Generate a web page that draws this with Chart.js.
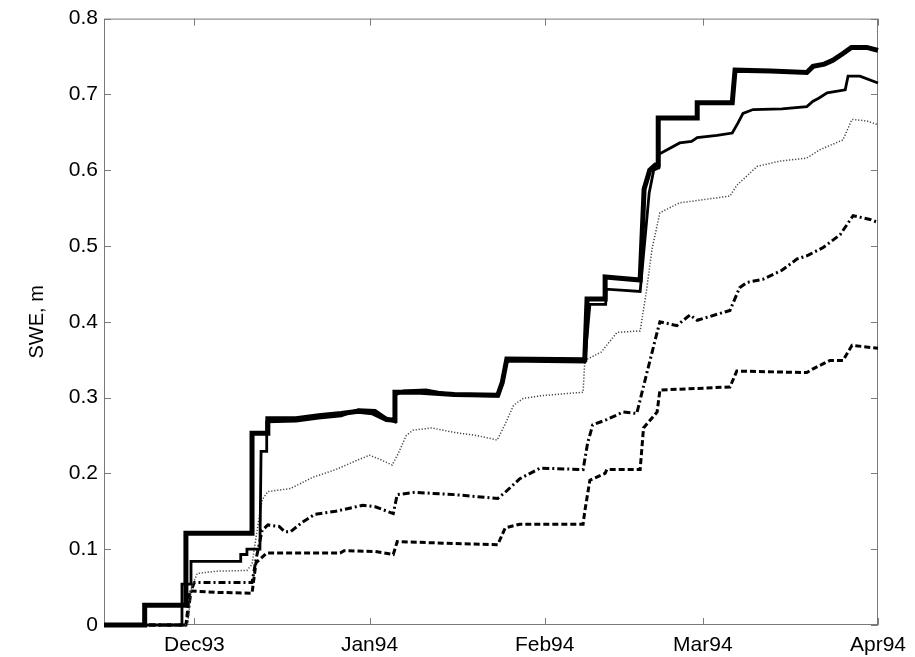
<!DOCTYPE html>
<html>
<head>
<meta charset="utf-8">
<title>SWE</title>
<script src="https://cdn.jsdelivr.net/npm/chart.js@4/dist/chart.umd.min.js"></script>
<style>
  html, body { margin: 0; padding: 0; background: #fff; }
  canvas { display: block; }
</style>
</head>
<body>
<canvas id="grafico" width="915" height="657"></canvas>
<script>
// ---- dados: dias desde 15/nov/1993, SWE em m ----
const monthTicks  = [16, 47, 78, 106, 137];
const monthLabels = ['Dec93', 'Jan94', 'Feb94', 'Mar94', 'Apr94'];
const yTicks      = [0, 0.1, 0.2, 0.3, 0.4, 0.5, 0.6, 0.7, 0.8];

// linha grossa
const sweGrossa = [
  [0,0],[7.2,0],[7.2,0.026],[14.5,0.026],[14.5,0.121],[26.2,0.121],[26.2,0.253],[29.0,0.253],
  [29.0,0.272],[34,0.272],[38,0.276],[42,0.279],[45,0.282],[47.5,0.280],[50,0.271],[51.5,0.270],
  [51.5,0.307],[56,0.307],[62,0.304],[69.7,0.303],[70.5,0.32],[71.3,0.351],[85.1,0.350],[85.5,0.430],
  [88.7,0.430],[88.7,0.459],[94.9,0.455],[95.6,0.575],[96.6,0.600],[97.6,0.607],[98.1,0.607],[98.1,0.669],
  [105,0.669],[105,0.689],[111.2,0.689],[111.7,0.732],[118,0.731],[124.4,0.729],[125.5,0.737],[127.5,0.740],
  [129,0.745],[130.8,0.754],[132.3,0.762],[135,0.762],[137,0.758]
];

// linha fina
const sweFina = [
  [0,0],[13.8,0],[13.8,0.054],[15.4,0.054],[15.4,0.084],[24.2,0.084],[24.2,0.093],[25.3,0.093],
  [25.3,0.100],[27.6,0.100],[27.8,0.229],[28.8,0.229],[28.8,0.268],[34,0.269],[38,0.273],[42,0.276],
  [45,0.284],[48,0.283],[50,0.273],[51.5,0.268],[51.5,0.303],[53,0.309],[57,0.310],[60,0.306],
  [64,0.303],[69.7,0.302],[70.5,0.32],[71.3,0.348],[85.1,0.347],[86.0,0.423],[88.8,0.423],[88.9,0.443],
  [94.9,0.440],[96.5,0.570],[97.3,0.600],[98.1,0.603],[98.2,0.621],[101.9,0.636],[104,0.638],[105,0.643],
  [108.5,0.646],[111.2,0.649],[112.2,0.662],[113.1,0.675],[114.9,0.680],[120,0.681],[124.4,0.684],
  [125.5,0.691],[126.5,0.695],[128,0.702],[131.2,0.706],[131.7,0.724],[133.8,0.724],[137,0.715]
];

// pontilhada
const swePontos = [
  [0,0],[14.8,0],[15.5,0.05],[16.5,0.068],[20,0.071],[25.3,0.072],[26.2,0.080],[27,0.12],[28,0.165],
  [29,0.176],[33,0.180],[37,0.195],[41,0.205],[45,0.218],[47,0.224],[49,0.218],[51,0.211],[52,0.225],
  [53.5,0.250],[54.7,0.257],[58,0.260],[62,0.254],[66,0.250],[69.6,0.244],[71,0.265],[72.5,0.290],
  [74.2,0.299],[78,0.303],[84.8,0.307],[85.1,0.349],[88,0.360],[90.8,0.386],[94.9,0.388],[96,0.44],
  [97,0.496],[98.4,0.544],[101.9,0.557],[105,0.560],[110.8,0.566],[112,0.58],[115.6,0.605],[119.6,0.612],
  [124.4,0.616],[126.7,0.627],[130.8,0.640],[132.4,0.667],[135,0.665],[137,0.660]
];

// traço-ponto
const sweTracoPonto = [
  [0,0],[14.6,0],[15.4,0.045],[16,0.056],[26.2,0.056],[27,0.09],[28,0.125],[29,0.132],[31,0.130],
  [32,0.123],[33,0.123],[35,0.135],[37.3,0.146],[41,0.150],[45.8,0.158],[48,0.156],[51.2,0.147],
  [51.9,0.172],[55,0.175],[62,0.172],[69.7,0.167],[71,0.175],[73.6,0.193],[77.2,0.207],[84.8,0.205],
  [85.6,0.24],[86.5,0.264],[89,0.271],[91.9,0.281],[94.3,0.279],[96,0.33],[97.9,0.386],[98.4,0.400],
  [101.4,0.395],[103.7,0.409],[105,0.402],[110.8,0.415],[112.5,0.445],[113.8,0.452],[116.6,0.456],
  [120,0.468],[122.7,0.483],[124.4,0.487],[127.3,0.498],[130.3,0.515],[132.6,0.540],[135.6,0.535],[137,0.531]
];

// tracejada
const sweTracos = [
  [0,0],[14.5,0],[15.2,0.045],[20,0.043],[26.2,0.042],[26.9,0.082],[28.8,0.095],[41.8,0.095],
  [42.5,0.098],[48,0.097],[51.2,0.093],[51.9,0.110],[60,0.108],[69.7,0.106],[71,0.128],[73.6,0.133],
  [84.8,0.133],[85.1,0.150],[86,0.191],[88.7,0.200],[89,0.205],[94.9,0.205],[95.5,0.26],[97.9,0.281],
  [98.4,0.310],[110.8,0.314],[112,0.335],[124.4,0.333],[125.5,0.338],[128.5,0.349],[130.8,0.349],
  [132.4,0.369],[137,0.365]
];

const pts = arr => arr.map(([x, y]) => ({ x, y }));

function serie(arr, cor, largura, dash) {
  return {
    data: pts(arr), borderColor: cor, borderWidth: largura, borderDash: dash,
    pointRadius: 0, fill: false, tension: 0, clip: false
  };
}

// ---- moldura + ticks para dentro (estilo matlab) ----
const moldura = {
  id: 'moldura',
  beforeDatasetsDraw(chart) {
    const { ctx, chartArea: a, scales: { x, y } } = chart;
    const L = 7;
    ctx.save();
    ctx.strokeStyle = '#7a7a7a';
    ctx.lineWidth = 1;
    ctx.strokeRect(a.left + 0.5, a.top + 0.5, a.right - a.left - 1, a.bottom - a.top - 1);
    ctx.beginPath();
    yTicks.forEach(v => {
      const py = Math.round(y.getPixelForValue(v)) + 0.5;
      ctx.moveTo(a.left, py);  ctx.lineTo(a.left + L, py);
      ctx.moveTo(a.right, py); ctx.lineTo(a.right - L, py);
    });
    monthTicks.forEach(v => {
      const px = Math.round(x.getPixelForValue(v)) + 0.5;
      ctx.moveTo(px, a.bottom); ctx.lineTo(px, a.bottom - L);
      ctx.moveTo(px, a.top);    ctx.lineTo(px, a.top + L);
    });
    ctx.stroke();
    ctx.restore();
  }
};

Chart.defaults.font.family = "'Liberation Sans', Arial, Helvetica, sans-serif";
Chart.defaults.color = '#000';

new Chart(document.getElementById('grafico').getContext('2d'), {
  type: 'line',
  data: {
    datasets: [
      serie(sweGrossa,     '#000', 5,   []),
      serie(sweFina,       '#000', 2.8, []),
      serie(swePontos,     '#444', 1.5, [1.2, 1.8]),
      serie(sweTracoPonto, '#000', 3,   [7, 3, 2, 3]),
      serie(sweTracos,     '#000', 3,   [6, 3])
    ]
  },
  options: {
    responsive: false,
    animation: false,
    layout: { padding: { left: 0, top: 16, right: 37, bottom: 0 } },
    plugins: { legend: { display: false }, tooltip: { enabled: false } },
    scales: {
      x: {
        type: 'linear', min: 0, max: 137,
        grid: { display: false, drawTicks: false }, border: { display: false },
        afterBuildTicks: s => { s.ticks = monthTicks.map(v => ({ value: v })); },
        afterFit: s => { s.height = 32; },
        ticks: {
          autoSkip: false, maxRotation: 0, padding: 8,
          font: { size: 21 },
          callback: v => monthLabels[monthTicks.indexOf(v)]
        }
      },
      y: {
        min: 0, max: 0.8,
        grid: { display: false, drawTicks: false }, border: { display: false },
        afterBuildTicks: s => { s.ticks = yTicks.map(v => ({ value: v })); },
        afterFit: s => { s.width = 104; },
        ticks: { padding: 6, font: { size: 21 }, callback: v => String(+v.toFixed(1)) },
        title: { display: true, text: 'SWE, m', font: { size: 20 }, padding: { top: 25, bottom: 0 } }
      }
    }
  },
  plugins: [moldura]
});
</script>
</body>
</html>
